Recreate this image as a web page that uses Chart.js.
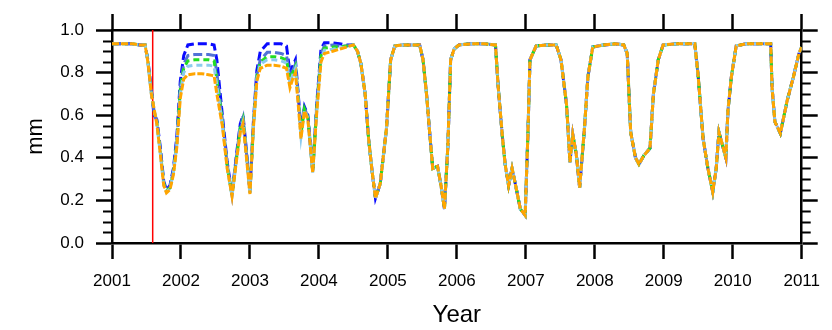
<!DOCTYPE html>
<html lang="en">

<head>
    <meta charset="UTF-8" />
    <title>mm by year</title>
    <script src="https://cdn.jsdelivr.net/npm/chart.js@4.4.1/dist/chart.umd.min.js"></script>
    <style>
        body { margin: 0; background: #fff; }
        #chartBox { width: 832px; height: 330px; }
    </style>
</head>

<body>
    <div id="chartBox">
        <canvas id="lineChart" width="832" height="330"></canvas>
    </div>

    <script>
        // time axis (decimal years)
        const years = [
            2001.00, 2001.10, 2001.20, 2001.30, 2001.40, 2001.48, 2001.52, 2001.57, 2001.61, 2001.65,
            2001.70, 2001.75, 2001.79, 2001.84, 2001.89, 2001.94, 2001.99, 2002.04, 2002.10, 2002.20,
            2002.30, 2002.40, 2002.48, 2002.52, 2002.60, 2002.67, 2002.74, 2002.81, 2002.86, 2002.90,
            2002.95, 2003.00, 2003.05, 2003.10, 2003.15, 2003.25, 2003.35, 2003.45, 2003.53, 2003.58,
            2003.62, 2003.66, 2003.70, 2003.74, 2003.79, 2003.84, 2003.91, 2003.97, 2004.03, 2004.08,
            2004.20, 2004.30, 2004.40,
            2004.50, 2004.56, 2004.61, 2004.67, 2004.72, 2004.77, 2004.82, 2004.89, 2004.98, 2005.04,
            2005.10, 2005.20, 2005.30, 2005.46, 2005.51, 2005.56, 2005.60, 2005.65, 2005.72, 2005.77,
            2005.82, 2005.87, 2005.91, 2005.96, 2006.03, 2006.20, 2006.40, 2006.56, 2006.60, 2006.66,
            2006.70, 2006.75, 2006.80, 2006.84, 2006.92, 2006.99, 2007.03, 2007.06, 2007.15, 2007.30,
            2007.44, 2007.51, 2007.59, 2007.64, 2007.68, 2007.73, 2007.78, 2007.85, 2007.90, 2007.97,
            2008.13, 2008.30, 2008.42, 2008.47, 2008.52, 2008.59, 2008.64, 2008.71, 2008.80, 2008.85,
            2008.92, 2008.99, 2009.20, 2009.45, 2009.50, 2009.57, 2009.64, 2009.71, 2009.76, 2009.80,
            2009.85, 2009.90, 2009.93, 2009.98, 2010.05, 2010.19, 2010.40, 2010.55, 2010.57, 2010.61,
            2010.69, 2010.79, 2010.88, 2010.96, 2011.00
        ];

        // first 53 points differ between runs, after that they overlap
        const blueEarly = [
            0.935, 0.935, 0.935, 0.935, 0.93, 0.93, 0.86, 0.72, 0.60, 0.58,
            0.45, 0.29, 0.25, 0.27, 0.35, 0.50, 0.76, 0.88, 0.93, 0.935,
            0.935, 0.935, 0.93, 0.86, 0.60, 0.38, 0.23, 0.43, 0.56, 0.60,
            0.43, 0.24, 0.57, 0.81, 0.90, 0.935, 0.935, 0.935, 0.925, 0.80,
            0.83, 0.86, 0.70, 0.53, 0.64, 0.60, 0.34, 0.66, 0.91, 0.94,
            0.94, 0.935, 0.93
        ];
        const slateEarly = [
            0.935, 0.935, 0.935, 0.935, 0.93, 0.93, 0.855, 0.71, 0.62, 0.57,
            0.44, 0.28, 0.245, 0.26, 0.34, 0.48, 0.73, 0.84, 0.88, 0.885,
            0.885, 0.885, 0.88, 0.80, 0.58, 0.37, 0.225, 0.42, 0.55, 0.59,
            0.42, 0.235, 0.56, 0.79, 0.86, 0.895, 0.895, 0.89, 0.88, 0.78,
            0.81, 0.84, 0.69, 0.52, 0.635, 0.59, 0.335, 0.65, 0.89, 0.925,
            0.93, 0.925, 0.925
        ];
        const greenEarly = [
            0.935, 0.935, 0.935, 0.935, 0.93, 0.93, 0.855, 0.71, 0.62, 0.57,
            0.43, 0.28, 0.245, 0.26, 0.33, 0.47, 0.72, 0.82, 0.855, 0.86,
            0.86, 0.86, 0.855, 0.77, 0.57, 0.36, 0.225, 0.41, 0.54, 0.58,
            0.41, 0.235, 0.55, 0.78, 0.85, 0.875, 0.875, 0.87, 0.86, 0.77,
            0.80, 0.83, 0.68, 0.51, 0.63, 0.59, 0.335, 0.64, 0.88, 0.915,
            0.92, 0.92, 0.925
        ];
        const skyEarly = [
            0.935, 0.935, 0.935, 0.935, 0.93, 0.93, 0.85, 0.70, 0.63, 0.56,
            0.42, 0.27, 0.24, 0.255, 0.33, 0.46, 0.70, 0.80, 0.83, 0.835,
            0.835, 0.835, 0.83, 0.74, 0.56, 0.355, 0.22, 0.40, 0.53, 0.57,
            0.40, 0.23, 0.545, 0.77, 0.84, 0.86, 0.86, 0.855, 0.845, 0.75,
            0.79, 0.82, 0.66, 0.50, 0.625, 0.585, 0.33, 0.63, 0.87, 0.905,
            0.91, 0.915, 0.92
        ];
        const orangeMm = [
            0.935, 0.935, 0.935, 0.935, 0.93, 0.93, 0.85, 0.70, 0.63, 0.56,
            0.42, 0.27, 0.235, 0.25, 0.32, 0.45, 0.68, 0.77, 0.79, 0.795,
            0.795, 0.79, 0.785, 0.70, 0.55, 0.35, 0.22, 0.40, 0.52, 0.56,
            0.40, 0.23, 0.54, 0.76, 0.82, 0.835, 0.835, 0.83, 0.82, 0.73,
            0.77, 0.80, 0.65, 0.49, 0.62, 0.58, 0.33, 0.62, 0.85, 0.89,
            0.90, 0.91, 0.92,
            0.93, 0.90, 0.84, 0.70, 0.49, 0.34, 0.21, 0.28, 0.54, 0.86,
            0.925, 0.93, 0.93, 0.93, 0.86, 0.70, 0.54, 0.35, 0.36, 0.27,
            0.16, 0.46, 0.86, 0.91, 0.93, 0.935, 0.935, 0.93, 0.73, 0.50,
            0.37, 0.27, 0.35, 0.29, 0.16, 0.13, 0.51, 0.86, 0.925, 0.93,
            0.93, 0.86, 0.65, 0.38, 0.51, 0.42, 0.26, 0.54, 0.78, 0.92,
            0.93, 0.935, 0.93, 0.89, 0.52, 0.40, 0.37, 0.41, 0.445, 0.70,
            0.86, 0.93, 0.935, 0.935, 0.78, 0.49, 0.35, 0.24, 0.35, 0.52,
            0.46, 0.40, 0.62, 0.78, 0.925, 0.935, 0.935, 0.935, 0.73, 0.57,
            0.515, 0.67, 0.78, 0.89, 0.92
        ];
        const splitAt = blueEarly.length;

        const redLineYear = 2001.59;
        const yearTicks = [2001, 2002, 2003, 2004, 2005, 2006, 2007, 2008, 2009, 2010, 2011];
        const mmTicks = [0.0, 0.2, 0.4, 0.6, 0.8, 1.0];
        const mmMinorTicks = [0.05, 0.1, 0.15, 0.25, 0.3, 0.35, 0.45, 0.5, 0.55, 0.65, 0.7, 0.75, 0.85, 0.9, 0.95];

        function toPoints(values) {
            return values.map((v, i) => ({ x: years[i], y: v }));
        }
        function joinLate(early) {
            return early.concat(orangeMm.slice(splitAt));
        }

        const fontName = "'Liberation Sans', Arial, Helvetica, sans-serif";

        // short minor ticks on both y sides
        const minorTickPlugin = {
            id: 'minorTicks',
            afterDraw(chart) {
                const ctx = chart.ctx;
                const area = chart.chartArea;
                const yScale = chart.scales.y;
                ctx.save();
                ctx.strokeStyle = '#000';
                ctx.lineWidth = 2;
                mmMinorTicks.forEach(v => {
                    const py = Math.round(yScale.getPixelForValue(v)) + 0.5;
                    ctx.beginPath();
                    ctx.moveTo(area.left - 9, py);
                    ctx.lineTo(area.left, py);
                    ctx.moveTo(area.right, py);
                    ctx.lineTo(area.right + 9, py);
                    ctx.stroke();
                });
                ctx.restore();
            }
        };

        function lineSet(label, data, color, dash) {
            return {
                label: label,
                data: data,
                borderColor: color,
                borderWidth: 3,
                borderDash: dash,
                pointRadius: 0,
                tension: 0,
                fill: false
            };
        }

        // chart.js paints the first dataset on top, so orange goes first
        const ctx = document.getElementById('lineChart');
        const myChart = new Chart(ctx, {
            type: 'line',
            data: {
                datasets: [
                    lineSet('run5', toPoints(orangeMm), '#ffa500', [7, 2]),
                    lineSet('run4', toPoints(joinLate(skyEarly)), '#8ccbee', [6, 4]),
                    lineSet('run3', toPoints(joinLate(greenEarly)), '#22dd22', [6, 4]),
                    lineSet('run2', toPoints(joinLate(slateEarly)), '#5272d6', [9, 4]),
                    lineSet('run1', toPoints(joinLate(blueEarly)), '#0a0aff', [9, 4]),
                    {
                        label: 'marker',
                        data: [{ x: redLineYear, y: 0 }, { x: redLineYear, y: 1 }],
                        borderColor: '#ff0000',
                        borderWidth: 1.5,
                        pointRadius: 0
                    }
                ]
            },
            options: {
                responsive: false,
                animation: false,
                devicePixelRatio: 1,
                layout: { padding: 0 },
                plugins: {
                    legend: { display: false },
                    tooltip: { enabled: false }
                },
                scales: {
                    x: {
                        type: 'linear',
                        position: 'bottom',
                        min: 2001,
                        max: 2011,
                        afterBuildTicks: s => { s.ticks = yearTicks.map(v => ({ value: v })); },
                        afterFit: s => { s.height = 87; },
                        border: { color: '#000', width: 2.5 },
                        grid: { drawOnChartArea: false, tickLength: 16, tickWidth: 2.5, tickColor: '#000' },
                        ticks: {
                            color: '#000',
                            padding: 12,
                            maxRotation: 0,
                            autoSkip: false,
                            font: { family: fontName, size: 17 },
                            callback: v => String(v)
                        },
                        title: {
                            display: true,
                            text: 'Year',
                            color: '#000',
                            padding: 0,
                            font: { family: fontName, size: 24 }
                        }
                    },
                    xTop: {
                        type: 'linear',
                        position: 'top',
                        min: 2001,
                        max: 2011,
                        afterBuildTicks: s => { s.ticks = yearTicks.map(v => ({ value: v })); },
                        afterFit: s => { s.height = 30; },
                        border: { color: '#000', width: 2.5 },
                        grid: { drawOnChartArea: false, tickLength: 16, tickWidth: 2.5, tickColor: '#000' },
                        ticks: { display: false }
                    },
                    y: {
                        position: 'left',
                        min: 0,
                        max: 1,
                        afterBuildTicks: s => { s.ticks = mmTicks.map(v => ({ value: v })); },
                        afterFit: s => { s.width = 112; },
                        border: { color: '#000', width: 2.5 },
                        grid: { drawOnChartArea: false, tickLength: 16, tickWidth: 2.5, tickColor: '#000' },
                        ticks: {
                            color: '#000',
                            padding: 12,
                            font: { family: fontName, size: 17 },
                            callback: v => Number(v).toFixed(1)
                        },
                        title: {
                            display: true,
                            text: 'mm',
                            color: '#000',
                            padding: { top: 23, bottom: 0 },
                            font: { family: fontName, size: 22 }
                        }
                    },
                    yRight: {
                        position: 'right',
                        min: 0,
                        max: 1,
                        afterBuildTicks: s => { s.ticks = mmTicks.map(v => ({ value: v })); },
                        afterFit: s => { s.width = 22; },
                        border: { color: '#000', width: 2.5 },
                        grid: { drawOnChartArea: false, tickLength: 16, tickWidth: 2.5, tickColor: '#000' },
                        ticks: { display: false }
                    }
                }
            },
            plugins: [minorTickPlugin]
        });
    </script>
</body>

</html>
